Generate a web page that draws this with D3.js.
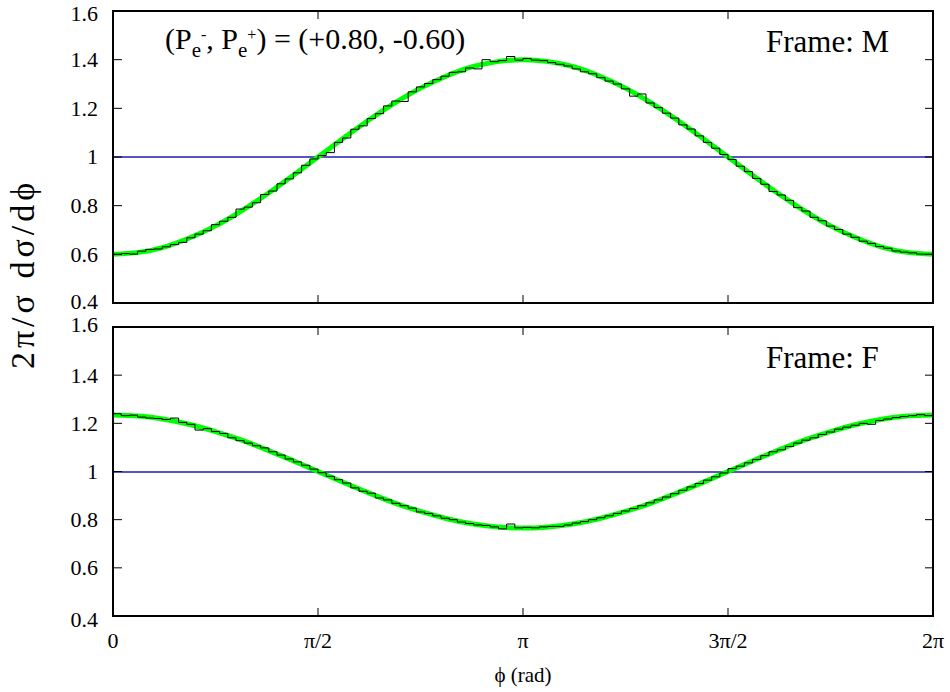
<!DOCTYPE html>
<html>
<head>
<meta charset="utf-8">
<script src="https://cdn.jsdelivr.net/npm/d3@7"></script>
<style>
  body { margin: 0; background: #fff; }
  svg { font-family: "Liberation Serif", "DejaVu Serif", serif; }
  text { fill: #000; }
</style>
</head>
<body>
<svg id="chart" width="950" height="692" font-family="Liberation Serif, DejaVu Serif, serif"></svg>
<script>
// x ticks (radians) and their labels
const xTickValues = [0, Math.PI / 2, Math.PI, 3 * Math.PI / 2, 2 * Math.PI];
const xTickLabels = ["0", "π/2", "π", "3π/2", "2π"];
const yTickValues = [0.4, 0.6, 0.8, 1, 1.2, 1.4, 1.6];

// histogram, 100 bins over [0, 2π], frame M
const histM = [
  0.600, 0.603, 0.601, 0.613, 0.620, 0.622, 0.631, 0.640, 0.649, 0.668,
  0.683, 0.697, 0.722, 0.736, 0.752, 0.786, 0.794, 0.812, 0.846, 0.860,
  0.890, 0.910, 0.935, 0.966, 0.992, 1.006, 1.018, 1.060, 1.078, 1.114,
  1.128, 1.158, 1.178, 1.210, 1.230, 1.228, 1.268, 1.288, 1.302, 1.318,
  1.332, 1.348, 1.350, 1.366, 1.362, 1.400, 1.392, 1.396, 1.413, 1.398,
  1.405, 1.398, 1.396, 1.388, 1.381, 1.374, 1.362, 1.350, 1.342, 1.326,
  1.312, 1.300, 1.280, 1.250, 1.259, 1.222, 1.203, 1.180, 1.160, 1.132,
  1.115, 1.087, 1.060, 1.036, 1.010, 0.990, 0.962, 0.940, 0.912, 0.888,
  0.858, 0.844, 0.822, 0.792, 0.778, 0.752, 0.738, 0.716, 0.702, 0.683,
  0.670, 0.654, 0.645, 0.632, 0.625, 0.614, 0.609, 0.606, 0.601, 0.600
];

// histogram, frame F
const histF = [
  1.240, 1.232, 1.234, 1.226, 1.222, 1.220, 1.216, 1.222, 1.204, 1.196,
  1.172, 1.178, 1.166, 1.158, 1.140, 1.128, 1.118, 1.107, 1.098, 1.082,
  1.068, 1.052, 1.040, 1.026, 1.010, 0.995, 0.980, 0.966, 0.952, 0.932,
  0.918, 0.910, 0.890, 0.882, 0.868, 0.858, 0.848, 0.832, 0.826, 0.816,
  0.806, 0.800, 0.790, 0.784, 0.778, 0.776, 0.770, 0.762, 0.782, 0.766,
  0.768, 0.766, 0.770, 0.772, 0.772, 0.778, 0.786, 0.792, 0.800, 0.808,
  0.816, 0.826, 0.836, 0.846, 0.858, 0.870, 0.882, 0.894, 0.908, 0.922,
  0.936, 0.950, 0.964, 0.978, 0.994, 1.012, 1.022, 1.036, 1.050, 1.066,
  1.082, 1.090, 1.104, 1.118, 1.130, 1.140, 1.154, 1.164, 1.176, 1.184,
  1.192, 1.200, 1.196, 1.212, 1.218, 1.224, 1.228, 1.232, 1.236, 1.232
];

// green fit curves, sampled every π/16 from 0 to 2π
const fitM = [
  0.600, 0.608, 0.630, 0.668, 0.717, 0.778, 0.847, 0.922, 1.000, 1.078,
  1.153, 1.222, 1.283, 1.332, 1.370, 1.392, 1.400, 1.392, 1.370, 1.332,
  1.283, 1.222, 1.153, 1.078, 1.000, 0.922, 0.847, 0.778, 0.717, 0.668,
  0.630, 0.608, 0.600
];
const fitF = [
  1.235, 1.230, 1.217, 1.195, 1.166, 1.131, 1.090, 1.046, 1.000, 0.954,
  0.910, 0.869, 0.834, 0.805, 0.783, 0.770, 0.765, 0.770, 0.783, 0.805,
  0.834, 0.869, 0.910, 0.954, 1.000, 1.046, 1.090, 1.131, 1.166, 1.195,
  1.217, 1.230, 1.235
];

const panels = [
  { frame: "M", top: 11, bottom: 303, hist: histM, fit: fitM },
  { frame: "F", top: 327, bottom: 616, hist: histF, fit: fitF }
];

const left = 113, right = 933;
const svg = d3.select("#chart");

const x = d3.scaleLinear().domain([0, 2 * Math.PI]).range([left, right]);

panels.forEach(function (p, pi) {
  const y = d3.scaleLinear().domain([0.4, 1.6]).range([p.bottom, p.top]);
  const g = svg.append("g");

  // reference line at 1, centred on a pixel edge so it covers two rows
  const y1 = Math.round(y(1));
  g.append("line")
    .attr("x1", left).attr("x2", right)
    .attr("y1", y1).attr("y2", y1)
    .attr("stroke", "#1c1cb0").attr("stroke-width", 1.6);

  // fit curve
  const fitStep = 2 * Math.PI / (p.fit.length - 1);
  g.append("path")
    .datum(p.fit)
    .attr("fill", "none")
    .attr("stroke", "#00ff00")
    .attr("stroke-width", 5)
    .attr("d", d3.line()
      .x((d, i) => x(i * fitStep))
      .y(d => y(d))
      .curve(d3.curveNatural));

  // histogram steps
  const binW = 2 * Math.PI / p.hist.length;
  const steps = p.hist.map((v, i) => [i * binW, v]);
  steps.push([2 * Math.PI, p.hist[p.hist.length - 1]]);
  g.append("path")
    .datum(steps)
    .attr("fill", "none")
    .attr("stroke", "#000")
    .attr("stroke-width", 1)
    .attr("d", d3.line()
      .x(d => x(d[0]))
      .y(d => y(d[1]))
      .curve(d3.curveStepAfter));

  // inward ticks, left / right / top / bottom
  const tick = g.append("g").attr("stroke", "#000").attr("stroke-width", 1);
  yTickValues.forEach(function (v) {
    tick.append("line").attr("x1", left).attr("x2", left + 9)
      .attr("y1", y(v)).attr("y2", y(v));
    tick.append("line").attr("x1", right).attr("x2", right - 8)
      .attr("y1", y(v)).attr("y2", y(v));
  });
  xTickValues.forEach(function (v) {
    tick.append("line").attr("x1", x(v)).attr("x2", x(v))
      .attr("y1", p.bottom).attr("y2", p.bottom - 8);
    tick.append("line").attr("x1", x(v)).attr("x2", x(v))
      .attr("y1", p.top).attr("y2", p.top + 8);
  });

  // y tick labels (edge labels nudged like the original)
  g.selectAll("text.ylab")
    .data(yTickValues)
    .enter().append("text")
    .attr("class", "ylab")
    .attr("x", 98)
    .attr("y", function (d) {
      let yy = y(d);
      if (pi === 0 && d === 1.6) yy += 3;
      if (pi === 0 && d === 0.4) yy -= 1;
      if (pi === 1 && d === 1.6) yy -= 2;
      if (pi === 1 && d === 0.4) yy += 4;
      return yy;
    })
    .attr("dy", "0.34em")
    .attr("text-anchor", "end")
    .attr("font-size", 22)
    .text(d => d3.format("")(d));

  // frame
  g.append("rect")
    .attr("x", left).attr("y", p.top)
    .attr("width", right - left).attr("height", p.bottom - p.top)
    .attr("fill", "none").attr("stroke", "#000").attr("stroke-width", 2);

  g.append("text")
    .attr("x", 766)
    .attr("y", p.top + 41)
    .attr("font-size", 31)
    .text("Frame: " + p.frame);
});

// polarisation label
const pol = svg.append("text").attr("x", 165).attr("y", 49).attr("font-size", 30);
pol.append("tspan").text("(P");
pol.append("tspan").attr("dy", 8).attr("font-size", 21).text("e");
pol.append("tspan").attr("dy", -17).attr("font-size", 16).text("-");
pol.append("tspan").attr("dy", 9).text(", P");
pol.append("tspan").attr("dy", 8).attr("font-size", 21).text("e");
pol.append("tspan").attr("dy", -17).attr("font-size", 16).text("+");
pol.append("tspan").attr("dy", 9).text(") = (+0.80, -0.60)");

// x tick labels
svg.selectAll("text.xlab")
  .data(xTickValues)
  .enter().append("text")
  .attr("class", "xlab")
  .attr("x", d => x(d))
  .attr("y", 648)
  .attr("text-anchor", "middle")
  .attr("font-size", 22)
  .text((d, i) => xTickLabels[i]);

// axis titles
svg.append("text")
  .attr("x", 523).attr("y", 682)
  .attr("text-anchor", "middle")
  .attr("font-size", 21)
  .text("ϕ (rad)");

svg.append("text")
  .attr("transform", "translate(34,274) rotate(-90)")
  .attr("text-anchor", "middle")
  .attr("font-size", 34)
  .attr("letter-spacing", 4)
  .text("2π/σ dσ/dϕ");
</script>
</body>
</html>
